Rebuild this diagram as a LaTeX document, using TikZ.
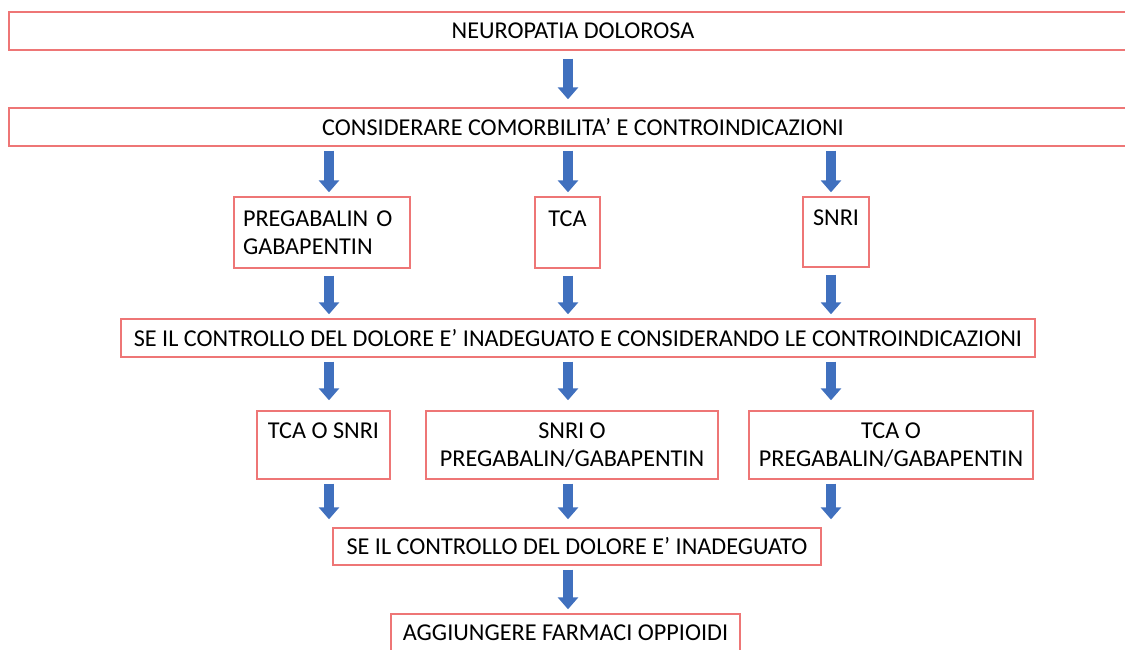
\documentclass[tikz,border=0pt]{standalone}
\usepackage{fontspec}
\setmainfont{Carlito}
\usetikzlibrary{arrows.meta}
\usetikzlibrary{positioning}
\definecolor{boxred}{RGB}{238,118,118}
\definecolor{arrowblue}{RGB}{64,112,190}
\tikzset{box/.style 2 args={rectangle,draw=boxred,line width=0.7pt,inner sep=0pt,minimum width=#1*0.5pt,minimum height=#2*0.5pt,align=center,font=\fontsize{12.1}{14}\selectfont}}
\tikzset{flow/.style={draw=arrowblue,line width=5pt,-{Triangle[width=10pt,length=6pt]},shorten <=2pt,shorten >=2pt}}

\begin{document}
\begin{tikzpicture}[x=0.5pt,y=-0.5pt]
\useasboundingbox (0,0) rectangle (1125,649);
\coordinate (colL) at (329,0);
\coordinate (colM) at (568,0);
\coordinate (colR) at (831,0);

\node[box={1128}{38}] (neuro) at (573,31) {NEUROPATIA DOLOROSA};
\node[box={1148}{38}] (cons) at (583,127) {CONSIDERARE COMORBILITA’ E CONTROINDICAZIONI};
 \draw[flow,shorten <=4pt,shorten >=4pt] (neuro.south -| colM) -- (cons.north -| colM);

\node[box={176}{71},align=left,text width=79pt] (preg) at (322,232.5) {PREGABALIN O\\GABAPENTIN};
\node[box={65}{71}] (tca) at (567.5,232.5) {TCA\\~};
\node[box={66}{70}] (snri) at (836,232) {SNRI\\~};
 \draw[flow] (cons.south -| colL) -- (preg.north -| colL);
 \draw[flow] (cons.south -| colM) -- (tca.north -| colM);
 \draw[flow] (cons.south -| colR) -- (snri.north -| colR);

\node[box={914}{38}] (inad) at (578,338) {SE IL CONTROLLO DEL DOLORE E’ INADEGUATO E CONSIDERANDO LE CONTROINDICAZIONI};
 \draw[flow,shorten <=3.5pt] (preg.south -| colL) -- (inad.north -| colL);
 \draw[flow,shorten <=3.5pt] (tca.south -| colM) -- (inad.north -| colM);
 \draw[flow,shorten <=3.5pt] (snri.south -| colR) -- (inad.north -| colR);

\node[box={133}{68}] (tcasnri) at (323.5,445) {TCA O SNRI\\~};
\node[box={292}{68}] (snripg) at (572,445) {SNRI O\\PREGABALIN/GABAPENTIN};
\node[box={284}{68}] (tcapg) at (891,445) {TCA O\\PREGABALIN/GABAPENTIN};
 \draw[flow,shorten >=5pt] (inad.south -| colL) -- (tcasnri.north -| colL);
 \draw[flow,shorten >=5pt] (inad.south -| colM) -- (snripg.north -| colM);
 \draw[flow,shorten >=5pt] (inad.south -| colR) -- (tcapg.north -| colR);

\node[box={488}{37}] (inad2) at (577,546.5) {SE IL CONTROLLO DEL DOLORE E’ INADEGUATO};
 \draw[flow,shorten >=4pt] (tcasnri.south -| colL) -- (inad2.north -| colL);
 \draw[flow,shorten >=4pt] (snripg.south -| colM) -- (inad2.north -| colM);
 \draw[flow,shorten >=4pt] (tcapg.south -| colR) -- (inad2.north -| colR);

\node[box={349}{38}] (opp) at (565.5,633) {AGGIUNGERE FARMACI OPPIOIDI};
 \draw[flow] (inad2.south -| colM) -- (opp.north -| colM);

\end{tikzpicture}
\end{document}
